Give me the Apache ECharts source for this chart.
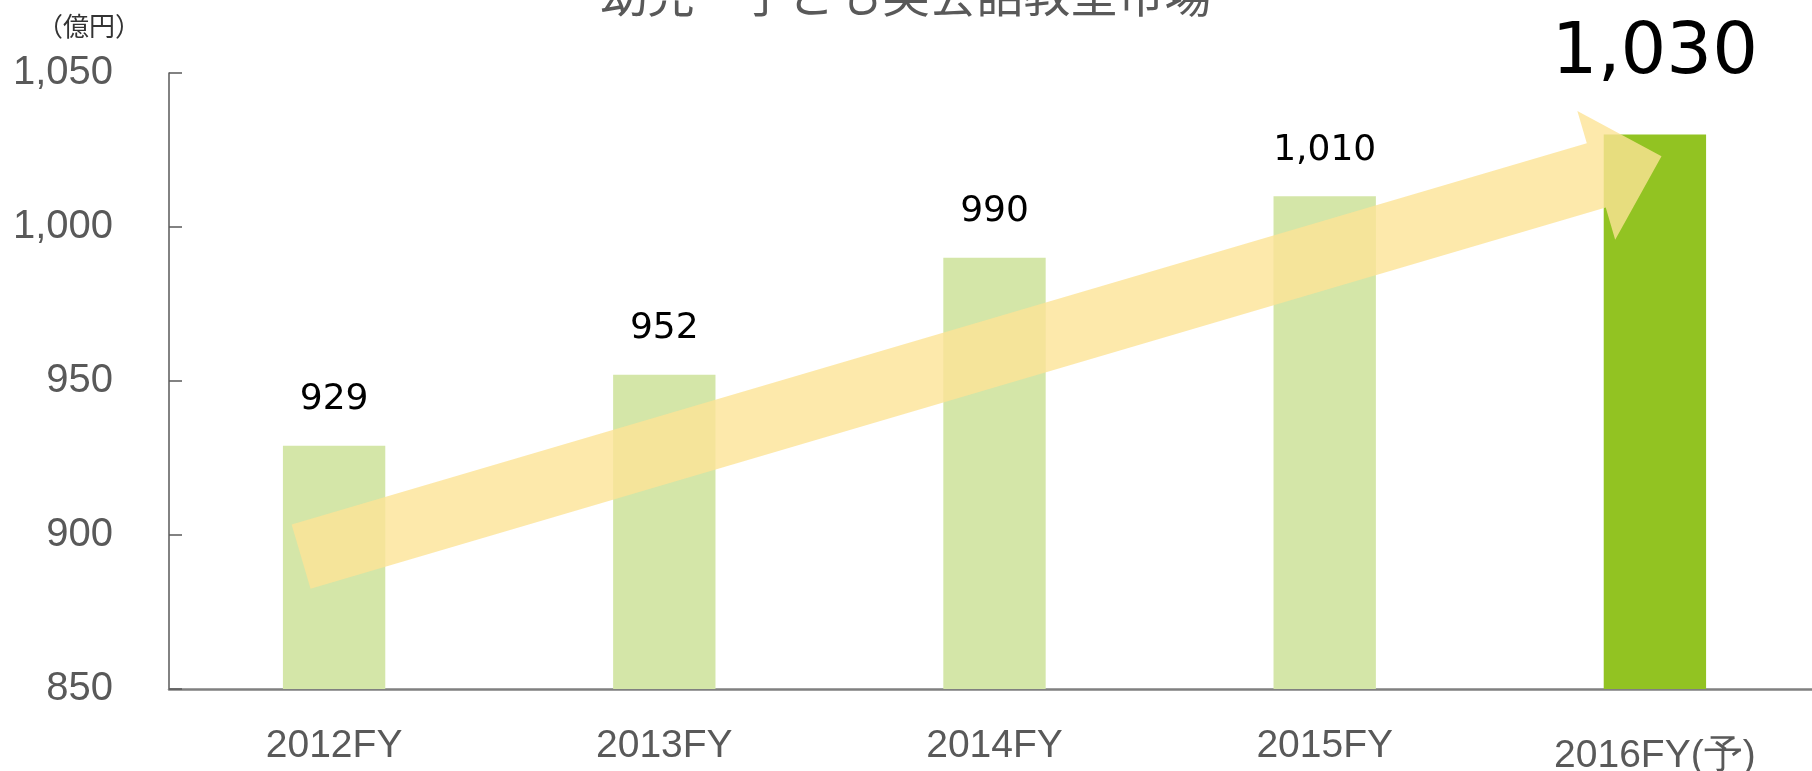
<!DOCTYPE html>
<html>
<head>
<meta charset="utf-8">
<title>幼児・子ども英会話教室市場</title>
<script src="https://cdn.jsdelivr.net/npm/echarts@6/dist/echarts.min.js"></script>
<style>
  html, body { margin: 0; padding: 0; background: #fff; }
  #main { width: 1812px; height: 771px; }
</style>
</head>
<body>
<div id="main"></div>
<script>
// データ
var categories = ['2012FY', '2013FY', '2014FY', '2015FY', '2016FY(予)'];
var marketValues = [929, 952, 990, 1010, 1030];
var isForecast = [false, false, false, false, true];
var yTicks = [850, 900, 950, 1000, 1050];
// 矢印（x: カテゴリ位置, y: 億円）
var arrowFrom = [-0.1, 893];
var arrowTo = [4.02, 1023];

var myChart = echarts.init(document.getElementById('main'));

var barData = marketValues.map(function (v, i) {
    var big = isForecast[i];
    return {
        value: v,
        itemStyle: { color: big ? '#92C322' : '#D4E6A8' },
        label: {
            show: true,
            position: 'top',
            distance: big ? 44 : 28,
            fontSize: big ? 72 : 36,
            color: '#000',
            fontFamily: 'DejaVu Sans',
            formatter: function (p) { return p.value.toLocaleString('en-US'); }
        }
    };
});

function renderArrow(params, api) {
    var a = api.coord([api.value(0), api.value(1)]);
    var b = api.coord([api.value(2), api.value(3)]);
    var dx = b[0] - a[0], dy = b[1] - a[1];
    var len = Math.sqrt(dx * dx + dy * dy);
    var ux = dx / len, uy = dy / len;
    var nx = -uy, ny = ux;
    var bodyW = 33.5, headW = 67, headL = 68;
    var bx = b[0] - ux * headL, by = b[1] - uy * headL;
    var pts = [
        [a[0] + nx * bodyW, a[1] + ny * bodyW],
        [bx + nx * bodyW, by + ny * bodyW],
        [bx + nx * headW, by + ny * headW],
        [b[0], b[1]],
        [bx - nx * headW, by - ny * headW],
        [bx - nx * bodyW, by - ny * bodyW],
        [a[0] - nx * bodyW, a[1] - ny * bodyW]
    ];
    return {
        type: 'polygon',
        shape: { points: pts },
        style: { fill: 'rgba(252,228,150,0.8)' }
    };
}

option = {
    animation: false,
    title: [{
        text: '幼児・子ども英会話教室市場',
        left: 'center',
        top: -34,
        textStyle: {
            fontFamily: 'Noto Sans CJK JP',
            fontSize: 47,
            fontWeight: 'normal',
            color: '#595959'
        }
    }, {
        text: '（億円）',
        left: 32,
        top: 8,
        textStyle: {
            fontFamily: 'Noto Sans CJK JP',
            fontSize: 26,
            fontWeight: 'normal',
            color: '#333'
        }
    }],
    grid: {
        left: 169,
        right: -8,
        top: 73,
        bottom: 82,
        containLabel: false,
        outerBoundsMode: 'none'
    },
    xAxis: [{
        type: 'category',
        data: categories,
        axisLine: { lineStyle: { color: '#808080', width: 2.5 } },
        axisTick: { show: false },
        axisLabel: {
            margin: 38,
            fontSize: 39,
            color: '#595959',
            fontFamily: 'Liberation Sans',
            formatter: function (v, i) {
                return isForecast[i] ? '{f|' + v + '}' : v;
            },
            rich: {
                f: { fontSize: 39, color: '#595959', fontFamily: 'Liberation Sans', padding: [10, 0, 0, 0] }
            }
        }
    }, {
        type: 'value',
        min: -0.5,
        max: categories.length - 0.5,
        show: false
    }],
    yAxis: {
        type: 'value',
        min: yTicks[0],
        max: yTicks[yTicks.length - 1],
        interval: 50,
        axisLine: { show: true, onZero: false, lineStyle: { color: '#595959', width: 1.5 } },
        axisTick: { show: true, inside: true, length: 13, lineStyle: { color: '#595959', width: 1.5 } },
        splitLine: { show: false },
        axisLabel: {
            margin: 56,
            fontSize: 40,
            color: '#595959',
            fontFamily: 'Liberation Sans',
            padding: [0, 0, 10, 0],
            formatter: function (v) { return v.toLocaleString('en-US'); }
        }
    },
    series: [{
        name: '市場規模',
        type: 'bar',
        barWidth: '31%',
        data: barData,
        z: 2
    }, {
        name: '矢印',
        type: 'custom',
        xAxisIndex: 1,
        renderItem: renderArrow,
        encode: { x: [0, 2], y: [1, 3] },
        data: [[arrowFrom[0], arrowFrom[1], arrowTo[0], arrowTo[1]]],
        silent: true,
        z: 3
    }]
};

myChart.setOption(option);
</script>
</body>
</html>
